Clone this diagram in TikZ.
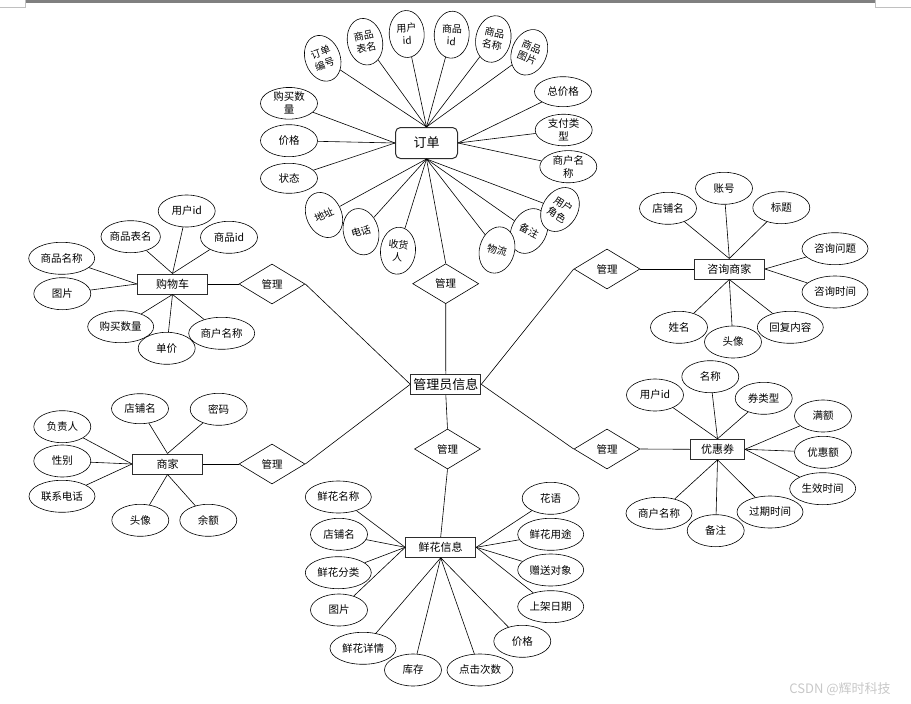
\documentclass[tikz,border=0pt]{standalone}
\usepackage{fontspec}
\setmainfont{Noto Sans CJK SC}
\usetikzlibrary{shapes.geometric,positioning}
\definecolor{barGray}{RGB}{128,128,128}
\definecolor{markGray}{RGB}{192,192,192}
\definecolor{wmGray}{RGB}{200,200,200}
\definecolor{boxLine}{RGB}{45,45,45}

\tikzset{
  attr/.style={ellipse,draw,fill=white,line width=.6pt,inner sep=0pt,minimum width=57pt,minimum height=32pt,font=\fontsize{10.5}{13}\selectfont,align=center},
  wideattr/.style={attr,minimum width=66pt},
  tiltattr/.style={attr,minimum width=35pt,minimum height=47pt,font=\fontsize{10}{12.5}\selectfont},
  entity/.style={rectangle,draw=boxLine,fill=white,line width=1pt,minimum width=70pt,minimum height=20pt,inner sep=0pt,font=\fontsize{11}{13}\selectfont},
  relation/.style={diamond,draw,fill=white,line width=.6pt,minimum width=66pt,minimum height=40pt,inner sep=0pt,font=\fontsize{10.5}{12}\selectfont},
  link/.style={line width=.6pt}
}

\begin{document}
\begin{tikzpicture}[x=1pt,y=-1pt]
\useasboundingbox (0,0) rectangle (911,704);
% page edge
\fill[barGray] (25,0) rectangle (875,3);
\draw[markGray] (0,7) -- (25,7) -- (25,0);
\draw[markGray] (911,7) -- (875,7) -- (875,0);

% central entity and relations
\node[entity,font=\fontsize{13}{15}\selectfont] (admin) at (445.8,384.3) {管理员信息};
\node[relation] (mOrder) at (445.7,283.7) {管理};
\node[relation] (mCart) at (272,284) {管理};
\node[relation] (mShop) at (272,464) {管理};
\node[relation] (mConsult) at (607,269) {管理};
\node[relation] (mCoupon) at (607,449) {管理};
\node[relation] (mFlower) at (447.5,449) {管理};

% 订单
\node[entity,rounded corners=5pt,minimum width=62pt,minimum height=31pt,font=\fontsize{13}{15}\selectfont] (order) at (426.5,143) {订单};
\node[tiltattr,rotate=20] (o1) at (322.7,58.3) {订单\\编号};
\node[tiltattr,rotate=12] (o2) at (365,41.7) {商品\\表名};
\node[tiltattr,rotate=3] (o3) at (406.7,34) {用户\\id};
\node[tiltattr,rotate=-3] (o4) at (451.7,34.7) {商品\\id};
\node[tiltattr,rotate=-12] (o5) at (493.3,39) {商品\\名称};
\node[tiltattr,rotate=-22] (o6) at (529.3,52.3) {商品\\图片};
\node[attr,minimum height=30pt] (o7) at (563,91.7) {总价格};
\node[attr,minimum height=30pt] (o8) at (563.7,130) {支付类\\型};
\node[attr,minimum height=30pt] (o9) at (568.3,166.7) {商户名\\称};
\node[tiltattr,rotate=-27] (o11) at (529,231) {备注};
\node[tiltattr,rotate=-32] (o10) at (560,209.5) {用户\\角色};
\node[tiltattr,rotate=-15] (o12) at (497,250) {物流};
\node[tiltattr,rotate=-5] (o13) at (398,250.7) {收货\\人};
\node[tiltattr,rotate=15] (o14) at (361,231.7) {电话};
\node[tiltattr,rotate=25] (o15) at (324,215) {地址};
\node[attr,minimum height=30pt] (o16) at (289,178.3) {状态};
\node[attr] (o17) at (289,140.7) {价格};
\node[attr,minimum height=30pt] (o18) at (289,103.3) {购买数\\量};
\foreach \a in {o1,o2,o3,o4,o5,o6} \draw[link] (\a) -- (order.north);
\foreach \a in {o7,o8,o9} \draw[link] (\a) -- (order.east);
\foreach \a in {o10,o11,o12,o13,o14,o15} \draw[link] (\a) -- (order.south);
\foreach \a in {o16,o17,o18} \draw[link] (\a) -- (order.west);

% 购物车
\node[entity] (cart) at (172.5,284) {购物车};
\node[attr] (c1) at (186.7,211) {用户id};
\node[attr] (c2) at (130.7,236.7) {商品表名};
\node[attr] (c3) at (229,237.3) {商品id};
\node[wideattr] (c4) at (61.7,258.3) {商品名称};
\node[attr] (c5) at (62.3,293.7) {图片};
\node[wideattr] (c6) at (120.7,326.7) {购买数量};
\node[wideattr] (c8) at (221.7,333.3) {商户名称};
\node[attr] (c7) at (166.7,348.3) {单价};
\foreach \a in {c1,c2,c3} \draw[link] (\a) -- (cart.north);
\foreach \a in {c4,c5} \draw[link] (\a) -- (cart.west);
\foreach \a in {c6,c7,c8} \draw[link] (\a) -- (cart.south);

% 咨询商家
\node[entity] (consult) at (729.3,269) {咨询商家};
\node[attr] (k1) at (668,208.3) {店铺名};
\node[attr] (k2) at (724,188.3) {账号};
\node[attr] (k3) at (781.3,207.7) {标题};
\node[wideattr] (k4) at (835,248.7) {咨询问题};
\node[wideattr] (k5) at (835,292) {咨询时间};
\node[attr] (k6) at (679,327.3) {姓名};
\node[wideattr] (k8) at (790.3,327.3) {回复内容};
\node[attr] (k7) at (733,342) {头像};
\foreach \a in {k1,k2,k3} \draw[link] (\a) -- (consult.north);
\foreach \a in {k4,k5} \draw[link] (\a) -- (consult.east);
\foreach \a in {k6,k7,k8} \draw[link] (\a) -- (consult.south);

% 商家
\node[entity] (shop) at (167.5,464) {商家};
\node[attr,minimum height=30pt] (s1) at (140,408.7) {店铺名};
\node[attr] (s2) at (218.7,409.3) {密码};
\node[attr] (s3) at (62.3,426.7) {负责人};
\node[attr] (s4) at (62.3,461) {性别};
\node[wideattr] (s5) at (62,496.3) {联系电话};
\node[attr] (s6) at (140.3,520.3) {头像};
\node[attr] (s7) at (208.3,520.3) {余额};
\foreach \a in {s1,s2} \draw[link] (\a) -- (shop.north);
\foreach \a in {s3,s4,s5} \draw[link] (\a) -- (shop.west);
\foreach \a in {s6,s7} \draw[link] (\a) -- (shop.south);

% 优惠券
\node[entity,minimum width=54pt] (coupon) at (717.5,449.3) {优惠券};
\node[attr] (u1) at (655,395) {用户id};
\node[attr] (u2) at (710.3,376.7) {名称};
\node[attr] (u3) at (763.7,398.3) {券类型};
\node[attr] (u4) at (823,416) {满额};
\node[attr] (u5) at (823,452.3) {优惠额};
\node[wideattr] (u6) at (822.7,488.7) {生效时间};
\node[wideattr] (u7) at (770,512) {过期时间};
\node[wideattr] (u9) at (659,513.3) {商户名称};
\node[attr] (u8) at (715.7,530.7) {备注};
\foreach \a in {u1,u2,u3} \draw[link] (\a) -- (coupon.north);
\foreach \a in {u4,u5,u6} \draw[link] (\a) -- (coupon.east);
\foreach \a in {u7,u8,u9} \draw[link] (\a) -- (coupon.south);

% 鲜花信息
\node[entity] (flower) at (440.7,547.3) {鲜花信息};
\node[wideattr] (f1) at (338.3,497) {鲜花名称};
\node[attr] (f2) at (339,534.3) {店铺名};
\node[wideattr] (f3) at (338.3,572.7) {鲜花分类};
\node[attr] (f4) at (339,610) {图片};
\node[wideattr] (f5) at (363,648.3) {鲜花详情};
\node[attr] (f6) at (413,670) {库存};
\node[wideattr] (f7) at (480,670) {点击次数};
\node[attr] (f8) at (522.3,641.3) {价格};
\node[wideattr] (f9) at (550.7,606.7) {上架日期};
\node[wideattr] (f10) at (550.7,570) {赠送对象};
\node[wideattr] (f11) at (550.7,534.3) {鲜花用途};
\node[attr] (f12) at (550.7,498.3) {花语};
\foreach \a in {f1,f2,f3,f4} \draw[link] (\a) -- (flower.west);
\foreach \a in {f5,f6,f7,f8} \draw[link] (\a) -- (flower.south);
\foreach \a in {f9,f10,f11,f12} \draw[link] (\a) -- (flower.east);

% relations to entities
\draw[link] (order.south) -- (mOrder.north);
\draw[link] (mOrder.south) -- (admin.north);
\draw[link] (cart.east) -- (mCart.west);
\draw[link] (mCart.east) -- (admin.west);
\draw[link] (shop.east) -- (mShop.west);
\draw[link] (mShop.east) -- (admin.west);
\draw[link] (consult.west) -- (mConsult.east);
\draw[link] (mConsult.west) -- (admin.east);
\draw[link] (coupon.west) -- (mCoupon.east);
\draw[link] (mCoupon.west) -- (admin.east);
\draw[link] (admin.south) -- (mFlower.north);
\draw[link] (mFlower.south) -- (flower.north);

\node[text=wmGray,font=\fontsize{13}{15}\selectfont] (mark) at (840,689) {CSDN @辉时科技};
\end{tikzpicture}
\end{document}
